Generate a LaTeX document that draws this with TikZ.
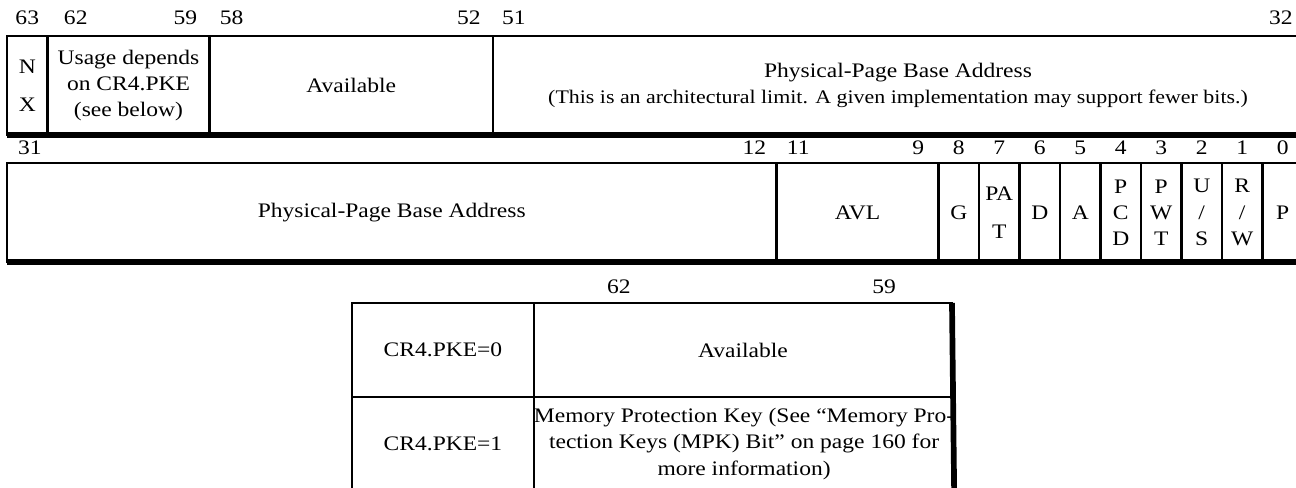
\documentclass[tikz,border=0pt]{standalone}
\usepackage{fontspec}
\setmainfont{Liberation Serif}[FakeStretch=1.14]
\usetikzlibrary{positioning,calc}
\definecolor{Ink}{HTML}{000000}
\tikzset{
  field/.style={draw=Ink,line width=1.5pt,outer sep=0pt,inner sep=0pt,align=center,minimum height=2.45cm,font=\fontsize{14.5}{18.5}\selectfont},
  bitw/.style={minimum width=#1cm},
  rowbox/.style={minimum height=2.321cm},
  bitno/.style={inner sep=0pt,text=Ink,font=\fontsize{14.5}{16}\selectfont},
  thickrule/.style={draw=Ink,line width=4pt}
}

\begin{document}
\begin{tikzpicture}
  \useasboundingbox (0,0) rectangle (32,-12.025);

  % bits 63..32
  \node[field,bitw=1,anchor=north west] (nx) at (0.173,-0.889) {N\\[8pt]X};
  \node[field,bitw=4,right=0pt of nx] (usage) {Usage depends\\on CR4.PKE\\(see below)};
  \node[field,bitw=7,right=0pt of usage] (avail) {Available};
  \node[field,bitw=20,right=0pt of avail] (hibase) {Physical-Page Base Address\\{\fontsize{13.5}{15}\selectfont (This is an architectural limit. A given implementation may support fewer bits.)}};
  \draw[thickrule] (nx.south west) -- (hibase.south east);

  \node[bitno,above=0.27cm of nx.north] (n63) {63};
  \node[bitno,above right=0.27cm and 0.4cm of usage.north west] (n62) {62};
  \node[bitno,above left=0.27cm and 0.3cm of usage.north east] (n59) {59};
  \node[bitno,above right=0.27cm and 0.25cm of avail.north west] (n58) {58};
  \node[bitno,above left=0.27cm and 0.3cm of avail.north east] (n52) {52};
  \node[bitno,above right=0.27cm and 0.22cm of hibase.north west] (n51) {51};
  \node[bitno,above left=0.27cm and 0.25cm of hibase.north east] (n32) {32};

  % bits 31..0
  \node[field,bitw=19,anchor=north west] (lobase) at (0.173,-4.025) {Physical-Page Base Address};
  \node[field,bitw=4,right=0pt of lobase] (avl) {AVL};
  \node[field,bitw=1,right=0pt of avl] (g) {G};
  \node[field,bitw=1,right=0pt of g] (pat) {PA\\[8pt]T};
  \node[field,bitw=1,right=0pt of pat] (d) {D};
  \node[field,bitw=1,right=0pt of d] (a) {A};
  \node[field,bitw=1,right=0pt of a] (pcd) {P\\C\\D};
  \node[field,bitw=1,right=0pt of pcd] (pwt) {P\\W\\T};
  \node[field,bitw=1,right=0pt of pwt] (us) {U\\/\\S};
  \node[field,bitw=1,right=0pt of us] (rw) {R\\/\\W};
  \node[field,bitw=1,right=0pt of rw] (p) {P};
  \draw[thickrule] (lobase.south west) -- (p.south east);

  \node[bitno,above right=0.2cm and 0.27cm of lobase.north west] (n31) {31};
  \node[bitno,above left=0.2cm and 0.25cm of lobase.north east] (n12) {12};
  \node[bitno,above right=0.2cm and 0.25cm of avl.north west] (n11) {11};
  \node[bitno,above left=0.2cm and 0.35cm of avl.north east] (n9) {9};
  \node[bitno,above=0.2cm of g.north] (n8) {8};
  \node[bitno,above=0.2cm of pat.north] (n7) {7};
  \node[bitno,above=0.2cm of d.north] (n6) {6};
  \node[bitno,above=0.2cm of a.north] (n5) {5};
  \node[bitno,above=0.2cm of pcd.north] (n4) {4};
  \node[bitno,above=0.2cm of pwt.north] (n3) {3};
  \node[bitno,above=0.2cm of us.north] (n2) {2};
  \node[bitno,above=0.2cm of rw.north] (n1) {1};
  \node[bitno,above=0.2cm of p.north] (n0) {0};

  % bits 62..59 by CR4.PKE
  \node[field,rowbox,minimum width=4.494cm,anchor=north west] (pke0) at (8.691,-7.481) {CR4.PKE=0};
  \node[field,rowbox,minimum width=10.321cm,right=0pt of pke0] (pkeav) {Available};
  \node[field,rowbox,minimum width=4.494cm,below=0pt of pke0] (pke1) {CR4.PKE=1};
  \node[field,rowbox,minimum width=10.321cm,right=0pt of pke1] (pkemk) {Memory Protection Key (See “Memory Pro-\\tection Keys (MPK) Bit” on page 160 for\\more information)};
  \draw[thickrule] (pkeav.north east) -- (pkemk.south east);

  \node[bitno,above right=0.22cm and 1.8cm of pkeav.north west] (t62) {62};
  \node[bitno,above left=0.22cm and 1.38cm of pkeav.north east] (t59) {59};
\end{tikzpicture}
\end{document}
